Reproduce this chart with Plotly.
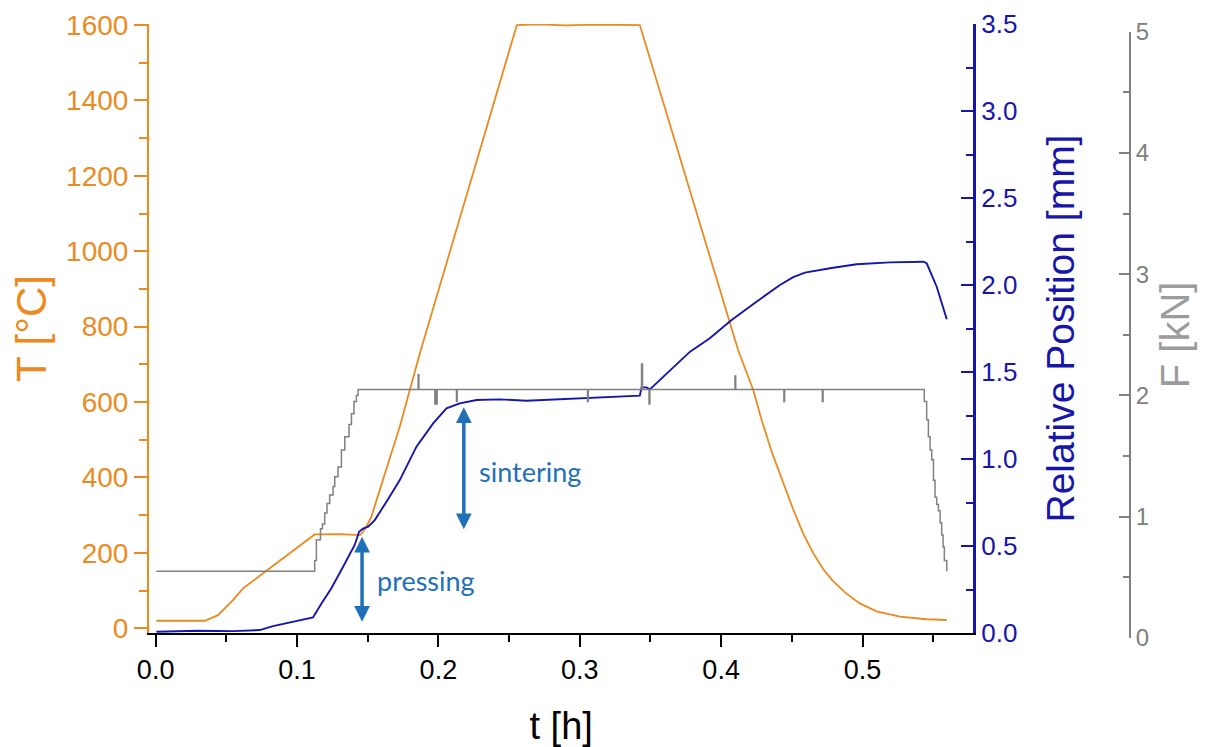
import plotly.graph_objects as go

# ---------------- data ----------------
# Temperature T [°C] vs time t [h]
t_T = [0.0005, 0.0347, 0.0441, 0.0547, 0.0618, 0.1125, 0.1300, 0.1432, 0.1444, 0.1467,
       0.1491, 0.1526, 0.1609, 0.1727, 0.1868, 0.2555, 0.2700, 0.2900, 0.3100, 0.3300,
       0.3425, 0.3885, 0.4120, 0.4227, 0.4287, 0.4360, 0.4440, 0.4510, 0.4580, 0.4650,
       0.4720, 0.4790, 0.4880, 0.4980, 0.5100, 0.5265, 0.5450, 0.5596]
T_vals = [20, 20, 35, 75, 106, 249, 250, 248, 247, 256,
          270, 296, 393, 535, 728, 1600, 1602, 1599, 1601, 1600,
          1600, 1030, 738, 632, 552, 466, 385, 315, 252, 200,
          158, 126, 94, 66, 45, 31, 24, 22]

# Relative position [mm] vs time t [h]
t_P = [0.0005, 0.0300, 0.0550, 0.0736, 0.0830, 0.0972, 0.1113, 0.1173, 0.1243, 0.1326,
       0.1408, 0.1439, 0.1467, 0.1503, 0.1550, 0.1633, 0.1727, 0.1845, 0.1963, 0.2057,
       0.2151, 0.2270, 0.2434, 0.2623, 0.3425, 0.3437, 0.3472, 0.3496, 0.3780, 0.3920,
       0.4074, 0.4250, 0.4416, 0.4510, 0.4593, 0.4770, 0.4959, 0.5195, 0.5430, 0.5454,
       0.5525, 0.5596]
P_vals = [0.007, 0.013, 0.011, 0.017, 0.040, 0.065, 0.090, 0.170, 0.257, 0.381,
          0.506, 0.582, 0.600, 0.611, 0.649, 0.755, 0.879, 1.071, 1.205, 1.291,
          1.320, 1.339, 1.343, 1.335, 1.364, 1.412, 1.412, 1.400, 1.617, 1.694,
          1.799, 1.904, 2.000, 2.045, 2.071, 2.096, 2.119, 2.130, 2.134, 2.125,
          1.990, 1.803]

# Force F [kN] vs time t [h]
t_F = [0.0005, 0.1125, 0.1137, 0.1166, 0.1180, 0.1196, 0.1212, 0.1231, 0.1255, 0.1267,
       0.1290, 0.1314, 0.1338, 0.1368, 0.1385, 0.1403, 0.1420, 0.1432,
       0.1857, 0.1862, 0.1975, 0.1980, 0.1986, 0.1991, 0.2128, 0.2133, 0.3055, 0.3060,
       0.3437, 0.3444, 0.3490, 0.3496, 0.4098, 0.4103, 0.4444, 0.4449, 0.4716, 0.4721,
       0.5437, 0.5454, 0.5466, 0.5478, 0.5490, 0.5502, 0.5513, 0.5525, 0.5537, 0.5549,
       0.5560, 0.5570, 0.5579, 0.5596]
F_vals = [0.55, 0.64, 0.81, 0.90, 0.94, 1.03, 1.11, 1.18, 1.25, 1.33,
          1.41, 1.55, 1.66, 1.76, 1.85, 1.95, 2.00, 2.05,
          2.17, 2.05, 1.93, 2.05, 1.93, 2.05, 1.95, 2.05, 1.95, 2.05,
          2.26, 2.05, 1.93, 2.05, 2.16, 2.05, 1.95, 2.05, 1.95, 2.05,
          1.95, 1.80, 1.66, 1.55, 1.47, 1.30, 1.16, 1.10, 1.05, 0.95,
          0.85, 0.75, 0.64, 0.55]

# tick labels
x_ticks = [0.0, 0.1, 0.2, 0.3, 0.4, 0.5]
x_tick_labels = ["0.0", "0.1", "0.2", "0.3", "0.4", "0.5"]
T_ticks = [0, 200, 400, 600, 800, 1000, 1200, 1400, 1600]
P_ticks = [0.0, 0.5, 1.0, 1.5, 2.0, 2.5, 3.0, 3.5]
P_tick_labels = ["0.0", "0.5", "1.0", "1.5", "2.0", "2.5", "3.0", "3.5"]
F_ticks = [0, 1, 2, 3, 4, 5]

# annotation arrows (t, P_top, P_bottom) and labels
arrow_t = [0.1460, 0.2180]
arrow_top = [0.553, 1.297]
arrow_bottom = [0.056, 0.588]
label_text = ["pressing", "sintering"]
label_t = [0.1555, 0.2272]
label_P = [0.300, 0.930]

# ---------------- style ----------------
ORANGE = "#EC8A22"
BLUE = "#1616AA"
GRAY = "#808080"
GRAY_T = "#9C9C9C"
ARROW = "#1F70B8"
FONT = "Liberation Sans, Arial, sans-serif"

fig = go.Figure()
fig.add_trace(go.Scatter(x=t_T, y=T_vals, mode="lines", name="T",
                         line=dict(color=ORANGE, width=1.8), yaxis="y"))
fig.add_trace(go.Scatter(x=t_F, y=F_vals, mode="lines", name="F",
                         line=dict(color=GRAY, width=1.5, shape="hv"), yaxis="y3"))
fig.add_trace(go.Scatter(x=t_P, y=P_vals, mode="lines", name="Relative Position",
                         line=dict(color=BLUE, width=1.9), yaxis="y2"))

annotations = []
for xt, top, bot in zip(arrow_t, arrow_top, arrow_bottom):
    annotations.append(dict(x=xt, y=top, ax=xt, ay=bot, xref="x", yref="y2",
                            axref="x", ayref="y2", text="", showarrow=True,
                            arrowhead=2, arrowside="end+start", arrowsize=0.9,
                            arrowwidth=3.5, arrowcolor=ARROW))
for txt, xt, yp in zip(label_text, label_t, label_P):
    annotations.append(dict(x=xt, y=yp, xref="x", yref="y2", text=txt,
                            showarrow=False, xanchor="left", yanchor="middle",
                            font=dict(family="Lato, Open Sans, sans-serif", size=27, color=ARROW)))

fig.update_layout(
    width=1201, height=739,
    margin=dict(l=141, r=79, t=16, b=109, pad=0),
    paper_bgcolor="white", plot_bgcolor="rgba(0,0,0,0)",
    showlegend=False,
    font=dict(family=FONT),
    xaxis=dict(domain=[0, 0.8403], range=[-0.0047, 0.5784], anchor="y",
               tickmode="array", tickvals=x_ticks, ticktext=x_tick_labels,
               ticks="outside", ticklen=12, tickwidth=2, tickcolor="black",
               minor=dict(dtick=0.05, tick0=0, ticks="outside", ticklen=7, tickwidth=2, tickcolor="black"),
               showline=True, linecolor="black", linewidth=2,
               showgrid=False, zeroline=False, automargin=False,
               tickfont=dict(size=27, color="black", family=FONT),
               title=dict(text="t [h]", font=dict(size=38, color="black", family=FONT), standoff=29)),
    yaxis=dict(domain=[0.0081, 1.0], range=[-12.5, 1602.7], anchor="x", side="left",
               tickmode="array", tickvals=T_ticks,
               ticks="outside", ticklen=13, tickwidth=2, tickcolor=ORANGE,
               minor=dict(dtick=100, tick0=0, ticks="outside", ticklen=8, tickwidth=2, tickcolor=ORANGE),
               showline=True, linecolor=ORANGE, linewidth=2,
               showgrid=False, zeroline=False, automargin=False,
               tickfont=dict(size=28, color=ORANGE, family=FONT),
               title=dict(text="T [°C]", font=dict(size=42, color=ORANGE, family=FONT), standoff=8)),
    yaxis2=dict(overlaying="y", anchor="x", side="right", range=[0, 3.5],
                tickmode="array", tickvals=P_ticks, ticktext=P_tick_labels,
                ticks="inside", ticklen=13, tickwidth=2, tickcolor=BLUE,
                minor=dict(dtick=0.25, tick0=0, ticks="inside", ticklen=8, tickwidth=2, tickcolor=BLUE),
                showline=True, linecolor=BLUE, linewidth=2.5,
                showgrid=False, zeroline=False, automargin=False,
                tickfont=dict(size=26, color=BLUE, family=FONT),
                title=dict(text="Relative Position [mm]", font=dict(size=39, color=BLUE, family=FONT), standoff=31)),
    yaxis3=dict(domain=[0.0, 0.9875], anchor="free", position=1.0, side="right", range=[0, 5],
                tickmode="array", tickvals=F_ticks,
                ticks="inside", ticklen=10, tickwidth=2, tickcolor=GRAY,
                minor=dict(dtick=0.5, tick0=0, ticks="inside", ticklen=6, tickwidth=2, tickcolor=GRAY),
                showline=True, linecolor=GRAY, linewidth=2,
                showgrid=False, zeroline=False, automargin=False,
                tickfont=dict(size=24, color=GRAY, family=FONT),
                title=dict(text="F [kN]", font=dict(size=40, color=GRAY_T, family=FONT), standoff=12)),
    annotations=annotations,
)

fig.write_html("out.html")
